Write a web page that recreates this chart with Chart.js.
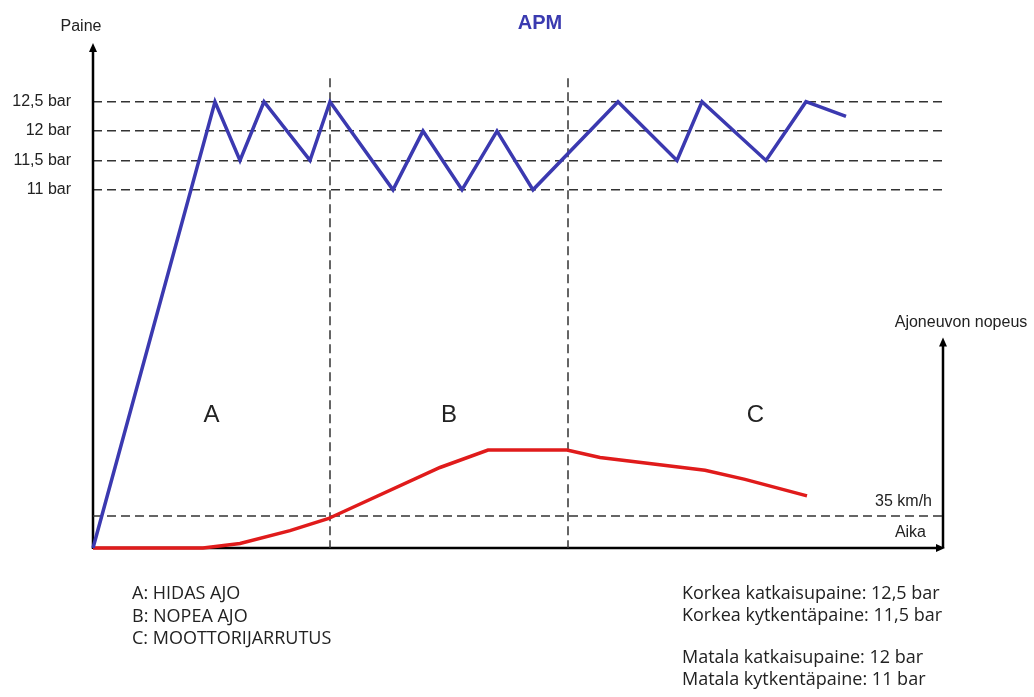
<!DOCTYPE html>
<html>
<head>
<meta charset="utf-8">
<script src="https://cdn.jsdelivr.net/npm/chart.js@4/dist/chart.umd.min.js"></script>
<style>
  body { margin: 0; background: #fff; }
  #wrap { width: 1034px; height: 697px; position: relative; }
</style>
</head>
<body>
<div id="wrap"><canvas id="apmChart"></canvas></div>
<script>
// time is in arbitrary units, pressure in bar, speed in km/h
const pressureTime = [0, 12.2, 14.7, 17.1, 21.7, 23.7, 30.0, 33.0, 36.9, 40.4, 44.0, 52.5, 58.4, 60.9, 67.3, 71.3, 75.3];
const pressureBar  = [4.9, 12.5, 11.5, 12.5, 11.5, 12.5, 11, 12, 11, 12, 11, 12.5, 11.5, 12.5, 11.5, 12.5, 12.25];

const speedTime = [0, 11, 14.7, 19.7, 23.5, 34.7, 39.5, 47.4, 50.7, 61.2, 65.2, 71.4];
const speedKmh  = [0, 0, 5, 19, 32, 88, 107, 107, 99, 85, 75, 57];

const pressureTicks = [11, 11.5, 12, 12.5];
const pressureTickLabels = ['11 bar', '11,5 bar', '12 bar', '12,5 bar'];

const phaseBounds = [23.7, 47.5];
const phaseNames = ['A', 'B', 'C'];
const speedMark = 35;

const phaseLegend = ['A: HIDAS AJO', 'B: NOPEA AJO', 'C: MOOTTORIJARRUTUS'];
const highNotes = ['Korkea katkaisupaine: 12,5 bar', 'Korkea kytkentäpaine: 11,5 bar'];
const lowNotes = ['Matala katkaisupaine: 12 bar', 'Matala kytkentäpaine: 11 bar'];

const X_MAX = 85, Y_MIN = 4.9, Y_MAX = 13.5, Y2_MAX = 552, BOUND_TOP = 12.9;

const dashColor = '#333';
const dash = [9, 5];
const arial = '"Liberation Sans", Arial, sans-serif';
const humanist = '"Open Sans", "Noto Sans", sans-serif';

function xy(xs, ys) {
    return xs.map((x, i) => ({ x: x, y: ys[i] }));
}

const boundSets = phaseBounds.map(b => ({
    data: [{ x: b, y: BOUND_TOP }, { x: b, y: Y_MIN }],
    borderColor: dashColor, borderWidth: 1.5, borderDash: dash,
    pointRadius: 0, yAxisID: 'y', order: 2, clip: false
}));

const axesPlugin = {
    id: 'axesAndText',
    beforeDatasetsDraw(chart) {
        const { ctx, chartArea: a } = chart;
        const y2 = chart.scales.y2;
        ctx.save();
        ctx.strokeStyle = '#000';
        ctx.fillStyle = '#000';
        ctx.lineWidth = 2.5;
        // left axis
        ctx.beginPath();
        ctx.moveTo(a.left, a.bottom + 1);
        ctx.lineTo(a.left, a.top + 4);
        ctx.stroke();
        arrow(ctx, a.left, a.top, 'up');
        // time axis
        ctx.beginPath();
        ctx.moveTo(a.left, a.bottom);
        ctx.lineTo(a.right - 2, a.bottom);
        ctx.stroke();
        arrow(ctx, a.right + 2, a.bottom, 'right');
        // speed axis
        const topSpeed = y2.getPixelForValue(230);
        ctx.beginPath();
        ctx.moveTo(a.right, a.bottom);
        ctx.lineTo(a.right, topSpeed + 4);
        ctx.stroke();
        arrow(ctx, a.right, topSpeed, 'up');
        ctx.restore();
    },
    afterDraw(chart) {
        const { ctx, chartArea: a } = chart;
        const x = chart.scales.x, y2 = chart.scales.y2;
        ctx.save();
        ctx.textBaseline = 'middle';

        ctx.font = 'bold 20px ' + arial;
        ctx.fillStyle = '#3a3ab0';
        ctx.textAlign = 'center';
        ctx.fillText('APM', 540, 23);

        ctx.fillStyle = '#222';
        ctx.font = '16px ' + arial;
        ctx.fillText('Paine', 81, 27);
        ctx.fillText('Ajoneuvon nopeus', 961, 323);

        ctx.textAlign = 'right';
        ctx.fillText(speedMark + ' km/h', a.right - 11, y2.getPixelForValue(speedMark) - 14);
        ctx.fillText('Aika', a.right - 17, a.bottom - 15);

        // phase letters centred between the boundaries
        const edges = [0].concat(phaseBounds, [X_MAX]);
        ctx.textAlign = 'center';
        ctx.font = '24px ' + arial;
        phaseNames.forEach((n, i) => {
            const mid = (edges[i] + edges[i + 1]) / 2;
            ctx.fillText(n, x.getPixelForValue(mid), 415);
        });

        ctx.textAlign = 'left';
        ctx.font = '18px ' + humanist;
        phaseLegend.forEach((t, i) => ctx.fillText(t, 132, 594 + i * 22.5));
        highNotes.forEach((t, i) => ctx.fillText(t, 682, 594 + i * 22));
        lowNotes.forEach((t, i) => ctx.fillText(t, 682, 658 + i * 22));
        ctx.restore();
    }
};

function arrow(ctx, x, y, dir) {
    ctx.beginPath();
    if (dir === 'up') {
        ctx.moveTo(x, y);
        ctx.lineTo(x - 4, y + 9);
        ctx.lineTo(x + 4, y + 9);
    } else {
        ctx.moveTo(x, y);
        ctx.lineTo(x - 9, y - 4);
        ctx.lineTo(x - 9, y + 4);
    }
    ctx.closePath();
    ctx.fill();
}

new Chart(document.getElementById('apmChart'), {
    type: 'line',
    data: {
        datasets: [
            {
                label: 'Paine',
                data: xy(pressureTime, pressureBar),
                borderColor: '#3b39b0', borderWidth: 3.5,
                pointRadius: 0, tension: 0, yAxisID: 'y', order: 0, clip: false
            },
            {
                label: 'Ajoneuvon nopeus',
                data: xy(speedTime, speedKmh),
                borderColor: '#e01b1b', borderWidth: 3.5,
                pointRadius: 0, tension: 0, yAxisID: 'y2', order: 0, clip: false
            },
            {
                label: '35 km/h',
                data: [{ x: 0, y: speedMark }, { x: X_MAX, y: speedMark }],
                borderColor: dashColor, borderWidth: 1.5, borderDash: dash,
                pointRadius: 0, yAxisID: 'y2', order: 2
            }
        ].concat(boundSets)
    },
    options: {
        responsive: true,
        maintainAspectRatio: false,
        animation: false,
        layout: { padding: { left: 0, right: 91, top: 43, bottom: 149 } },
        plugins: { legend: { display: false }, tooltip: { enabled: false } },
        scales: {
            x: { type: 'linear', min: 0, max: X_MAX, display: false },
            y: {
                type: 'linear', min: Y_MIN, max: Y_MAX,
                afterBuildTicks: s => { s.ticks = pressureTicks.map(v => ({ value: v })); },
                afterFit: s => { s.width = 93; },
                ticks: {
                    padding: 22, color: '#222',
                    font: { family: arial, size: 16 },
                    callback: v => pressureTickLabels[pressureTicks.indexOf(v)]
                },
                grid: { color: dashColor, lineWidth: 1.5, drawTicks: false },
                border: { display: false, dash: dash }
            },
            y2: { type: 'linear', min: 0, max: Y2_MAX, display: false }
        }
    },
    plugins: [axesPlugin]
});
</script>
</body>
</html>
